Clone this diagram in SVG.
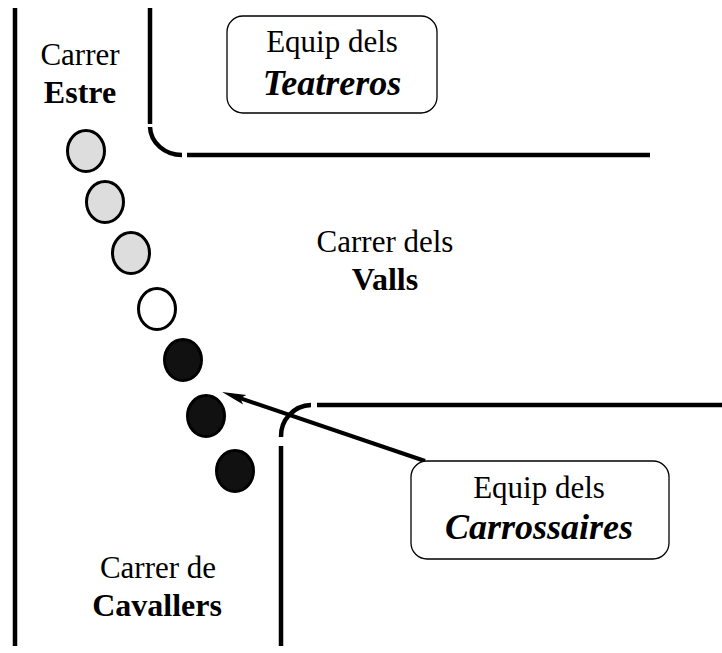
<svg xmlns="http://www.w3.org/2000/svg" width="722" height="653" viewBox="0 0 722 653">
<defs>
<style>
.st{fill:none;stroke:#000;stroke-width:4.5}
.box{fill:#fff;stroke:#000;stroke-width:1.3}
.t{fill:#000;text-anchor:middle}
.r{font-size:31px}
.b{font-size:32px;font-weight:bold}
.bi{font-size:36px;font-weight:bold;font-style:italic}
.p{stroke:#000;stroke-width:3}
.g{fill:#dddddd}
.w{fill:#ffffff}
.k{fill:#111111}
</style>
<marker id="ah" markerUnits="userSpaceOnUse" viewBox="0 0 24 12" refX="12" refY="6" markerWidth="24" markerHeight="12" orient="auto">
<path d="M0,1 L24,6 L0,11 L5,6 Z" fill="#000"/>
</marker>
</defs>
<g id="streets">
<line class="st" x1="15" y1="8" x2="15" y2="646"/>
<line class="st" x1="150" y1="8" x2="150" y2="124"/>
<path class="st" d="M150,127 A32,29 0 0 0 182,155"/>
<line class="st" x1="187" y1="155" x2="650" y2="155"/>
<line class="st" x1="317" y1="405" x2="722" y2="405"/>
<path class="st" d="M311,405 A31,31 0 0 0 281,437"/>
<line class="st" x1="281" y1="446" x2="281" y2="646"/>
</g>
<g font-family="Liberation Serif, Times New Roman, serif">
<g id="label-estre">
<text class="t r" x="80" y="65">Carrer</text>
<text class="t b" x="80" y="103">Estre</text>
</g>
<g id="label-valls">
<text class="t r" x="385" y="252">Carrer dels</text>
<text class="t b" x="385" y="290">Valls</text>
</g>
<g id="label-cavallers">
<text class="t r" x="158" y="578">Carrer de</text>
<text class="t b" x="157" y="616">Cavallers</text>
</g>
</g>
<g id="people">
<ellipse class="p g" cx="86" cy="151" rx="18.5" ry="20.5"/>
<ellipse class="p g" cx="105" cy="202" rx="18.5" ry="20.5"/>
<ellipse class="p g" cx="131" cy="253" rx="18.5" ry="20.5"/>
<ellipse class="p w" cx="157" cy="309" rx="18.5" ry="20.5"/>
<ellipse class="p k" cx="183" cy="360" rx="18.5" ry="20.5"/>
<ellipse class="p k" cx="206" cy="416" rx="18.5" ry="20.5"/>
<ellipse class="p k" cx="235" cy="471" rx="18.5" ry="20.5"/>
</g>
<g id="connectors">
<line x1="425" y1="461" x2="233.4" y2="395.9" stroke="#000" stroke-width="4" marker-end="url(#ah)"/>
</g>
<g id="teatreros" font-family="Liberation Serif, Times New Roman, serif">
<rect class="box" x="227" y="16" width="210" height="97" rx="16"/>
<text class="t r" x="332" y="52">Equip dels</text>
<text class="t bi" x="332" y="95">Teatreros</text>
</g>
<g id="carrossaires" font-family="Liberation Serif, Times New Roman, serif">
<rect class="box" x="411" y="461" width="258" height="98" rx="16"/>
<text class="t r" x="539" y="498">Equip dels</text>
<text class="t bi" x="539" y="539">Carrossaires</text>
</g>
</svg>
